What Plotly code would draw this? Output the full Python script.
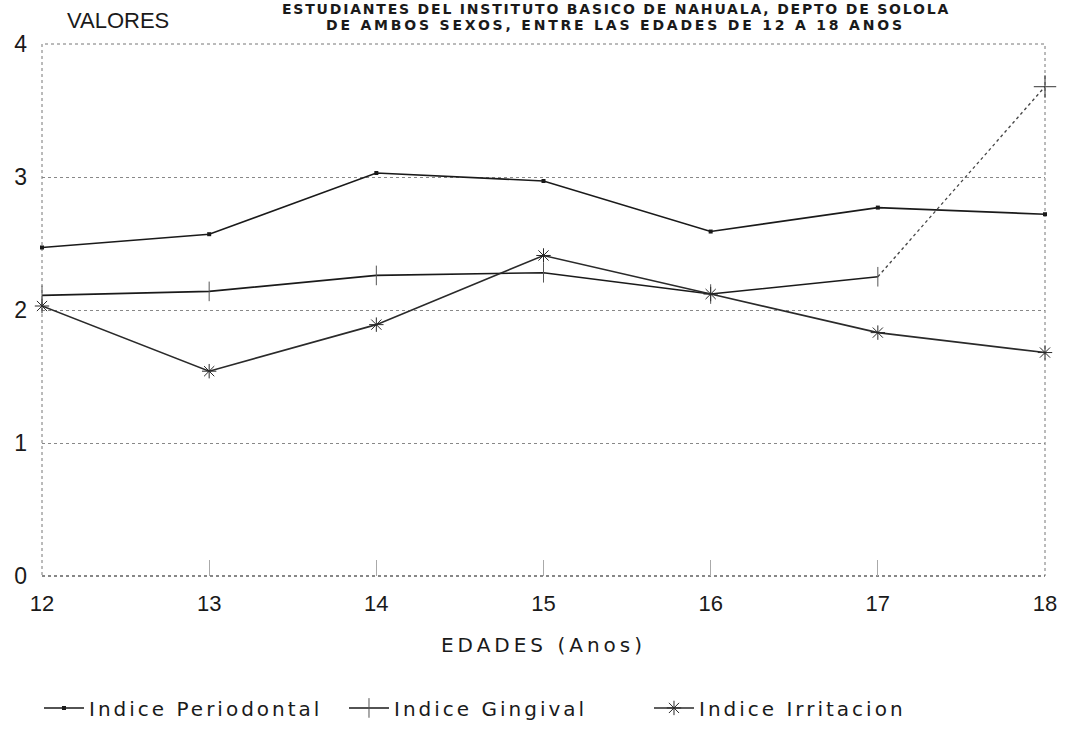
import plotly.graph_objects as go

edades = [12, 13, 14, 15, 16, 17, 18]
periodontal = [2.47, 2.57, 3.03, 2.97, 2.59, 2.77, 2.72]
gingival = [2.11, 2.14, 2.26, 2.28, 2.12, 2.25, 3.68]
irritacion = [2.03, 1.54, 1.89, 2.41, 2.12, 1.83, 1.68]
y_ticks = [0, 1, 2, 3, 4]
nombres = ["Indice Periodontal", "Indice Gingival", "Indice Irritacion"]
titulo = ["ESTUDIANTES DEL INSTITUTO BASICO DE NAHUALA, DEPTO DE SOLOLA",
          "DE AMBOS SEXOS, ENTRE LAS EDADES DE 12 A 18 ANOS"]

FONT = "Liberation Sans, Arial, sans-serif"
WIDE = "DejaVu Sans, Verdana, sans-serif"
INK = "#1a1a1a"


def spaced(txt, px):
    return f'<span style="letter-spacing:{px}px">{txt}</span>'


fig = go.Figure()

fig.add_trace(go.Scatter(
    x=edades, y=periodontal, mode="lines+markers", name=spaced(nombres[0], 3),
    line=dict(color=INK, width=1.6),
    marker=dict(symbol="square", size=4, color=INK),
    cliponaxis=False,
))
# Gingival: solid from 12 to 17, dotted last segment 17-18
fig.add_trace(go.Scatter(
    x=edades[:-1], y=gingival[:-1], mode="lines+markers", name=spaced(nombres[1], 3),
    line=dict(color=INK, width=1.6),
    marker=dict(symbol="line-ns", size=14, line=dict(color="#555", width=1)),
    cliponaxis=False,
))
fig.add_trace(go.Scatter(
    x=edades[-2:], y=gingival[-2:], mode="lines+markers", showlegend=False,
    line=dict(color="#444", width=1.3, dash="dot"),
    marker=dict(symbol="cross-thin", size=[0, 16], line=dict(color=INK, width=1.3)),
    cliponaxis=False,
))
fig.add_trace(go.Scatter(
    x=edades, y=irritacion, mode="lines+markers", name=spaced(nombres[2], 3),
    line=dict(color="#2a2a2a", width=1.6),
    marker=dict(symbol="asterisk-open", size=12, line=dict(color="#333", width=1)),
    cliponaxis=False,
))

# dotted frame
fig.add_shape(type="rect", xref="paper", yref="paper", x0=0, y0=0, x1=1, y1=1,
              line=dict(color="#777", width=1, dash="dot"), layer="below")
fig.add_shape(type="line", xref="paper", yref="paper", x0=0, y0=0, x1=1, y1=0,
              line=dict(color="#555", width=1.2, dash="dot"), layer="below")

fig.update_layout(
    width=1067, height=739,
    paper_bgcolor="white", plot_bgcolor="white",
    margin=dict(l=42, r=22, t=44, b=158),
    font=dict(family=FONT, color=INK, size=20),
    showlegend=True,
    legend=dict(orientation="h", x=-0.003, xanchor="left", y=-0.248, yanchor="middle",
                font=dict(size=20, family=WIDE), itemwidth=40,
                bgcolor="rgba(0,0,0,0)", entrywidth=250),
    xaxis=dict(range=[12, 18], tickvals=edades, showgrid=False, zeroline=False,
               showline=False, ticks="inside", ticklen=16, tickcolor="#aaa", tickwidth=1,
               automargin=False, ticklabelstandoff=12,
               tickfont=dict(size=22, family=FONT),
               title=dict(text=spaced("EDADES (Anos)", 4),
                          font=dict(size=20, family=WIDE), standoff=22)),
    yaxis=dict(range=[0, 4], tickvals=y_ticks, showgrid=True, gridcolor="#888",
               griddash="dot", gridwidth=1, zeroline=False, showline=False,
               automargin=False,
               tickfont=dict(size=23, family=FONT), ticks="", ticklabelstandoff=14),
    annotations=[
        dict(text="VALORES", xref="paper", yref="paper", x=0.023, y=1.0,
             xanchor="left", yanchor="middle", yshift=24, showarrow=False,
             font=dict(size=22, family=FONT)),
        dict(text=spaced(titulo[0], 1.8),
             xref="paper", yref="paper", x=0.572, y=1.0, yshift=35,
             xanchor="center", yanchor="middle", showarrow=False,
             font=dict(size=14, family=WIDE, weight="bold")),
        dict(text=spaced(titulo[1], 2.8),
             xref="paper", yref="paper", x=0.572, y=1.0, yshift=19,
             xanchor="center", yanchor="middle", showarrow=False,
             font=dict(size=14, family=WIDE, weight="bold")),
    ],
)

fig.write_html("out.html", config={"displayModeBar": False},
               post_script="document.body.style.margin='0';document.body.style.overflow='hidden';")
